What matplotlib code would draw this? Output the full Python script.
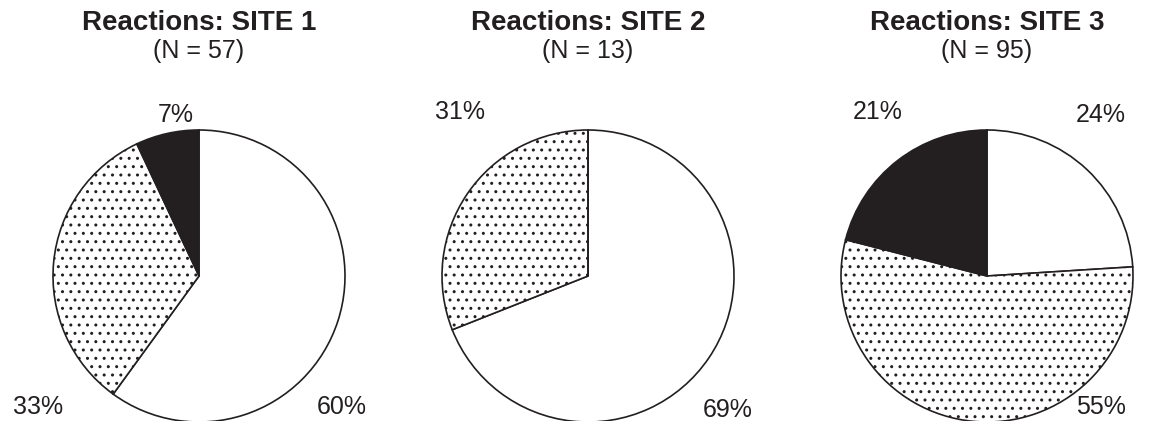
import matplotlib
matplotlib.use("Agg")
import matplotlib.pyplot as plt

plt.rcParams['font.family'] = ['Liberation Sans', 'DejaVu Sans']
plt.rcParams['hatch.linewidth'] = 1.0

sites = ["SITE 1", "SITE 2", "SITE 3"]
n_counts = [57, 13, 95]
# slices clockwise from 12 o'clock: white, dotted, black
white_pct = [60, 69, 24]
dotted_pct = [33, 31, 55]
black_pct = [7, 0, 21]

ink = "#231f20"
W, H = 1167, 421
centers_x = [199, 588, 987]
center_y = 276
radius_px = 146

# label positions relative to the pie (in radius units)
label_pos = [
    {"white": (0.98, -0.9), "dotted": (-1.1, -0.9), "black": (-0.16, 1.1)},
    {"white": (0.96, -0.92), "dotted": (-0.88, 1.12), "black": None},
    {"white": (0.78, 1.1), "dotted": (0.78, -0.9), "black": (-0.75, 1.12)},
]

fig = plt.figure(figsize=(W / 100, H / 100), dpi=100)
span = 1.3
for i in range(3):
    half = radius_px * span
    ax = fig.add_axes([(centers_x[i] - half) / W, (H - center_y - half) / H,
                       2 * half / W, 2 * half / H])
    vals = [white_pct[i], dotted_pct[i], black_pct[i]]
    wedges, _ = ax.pie(vals, startangle=90, counterclock=False, radius=1,
                       colors=["white", "white", ink],
                       wedgeprops=dict(edgecolor=ink, linewidth=1.2))
    wedges[1].set_hatch("..")
    for w in wedges:
        w.set_clip_on(False)
    ax.set_xlim(-span, span)
    ax.set_ylim(-span, span)
    ax.set_aspect("equal")
    ax.axis("off")
    for key, v in zip(["white", "dotted", "black"], vals):
        pos = label_pos[i][key]
        if v == 0 or pos is None:
            continue
        ax.text(pos[0], pos[1], f"{v}%", ha="center", va="center",
                fontsize=18, color=ink)
    fig.text(centers_x[i] / W, 1 - 23 / H, f"Reactions: {sites[i]}",
             ha="center", va="center", fontsize=20, fontweight="bold", color=ink)
    fig.text(centers_x[i] / W, 1 - 51 / H, f"(N = {n_counts[i]})",
             ha="center", va="center", fontsize=18, color=ink)

fig.savefig("out.png", dpi=100)
